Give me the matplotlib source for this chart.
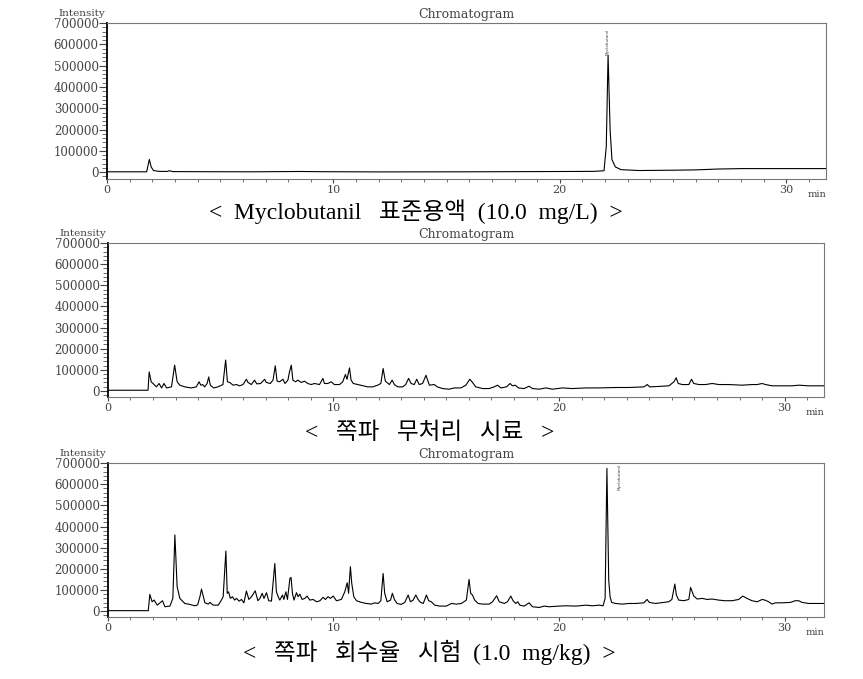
import numpy as np
import matplotlib
matplotlib.use("Agg")
import matplotlib.pyplot as plt
from matplotlib.ticker import MultipleLocator, FixedLocator

# Retention time (min) and intensity
std_time = [0.0, 1.75, 1.87, 1.95, 2.05, 2.3, 2.65, 2.75, 2.9, 4.0, 6.5, 8.5, 9.5, 12.0,
            16.0, 19.0, 21.5, 21.95, 22.05, 22.13, 22.22, 22.3, 22.45, 22.7, 23.5, 25.0,
            26.0, 27.0, 28.0, 31.75]
std_int = [2000, 2000, 60000, 25000, 8000, 4000, 3500, 7000, 3000, 2500, 2000, 3500, 2500, 1500,
           2000, 3000, 4000, 7000, 120000, 550000, 200000, 60000, 25000, 12000, 8000, 9500,
           11000, 15000, 17000, 17000]

blank_time = [0.0, 1.78, 1.83, 1.92, 2.05, 2.15, 2.27, 2.38, 2.49, 2.6, 2.82, 2.96, 3.07, 3.19,
              3.41, 3.7, 3.92, 4.04, 4.12, 4.2, 4.29, 4.4, 4.47, 4.54, 4.69, 4.88, 5.1, 5.22,
              5.3, 5.4, 5.55, 5.7, 5.84, 5.99, 6.14, 6.21, 6.36, 6.5, 6.6, 6.77, 6.95, 7.02,
              7.2, 7.32, 7.42, 7.5, 7.61, 7.76, 7.85, 7.98, 8.05, 8.13, 8.2, 8.32, 8.42, 8.57,
              8.72, 8.86, 9.01, 9.16, 9.38, 9.53, 9.6, 9.75, 9.9, 10.04, 10.27, 10.41, 10.53,
              10.6, 10.71, 10.78, 10.88, 11.08, 11.3, 11.52, 11.74, 11.96, 12.1, 12.2, 12.3,
              12.48, 12.6, 12.7, 12.85, 13.07, 13.2, 13.33, 13.44, 13.58, 13.69, 13.8, 13.95,
              14.1, 14.25, 14.47, 14.6, 14.84, 15.13, 15.35, 15.65, 15.87, 16.04, 16.14, 16.31,
              16.61, 16.9, 17.12, 17.27, 17.42, 17.67, 17.83, 17.93, 18.05, 18.2, 18.45, 18.67,
              18.82, 19.12, 19.41, 19.71, 20.15, 20.59, 21.18, 21.77, 22.51, 23.1, 23.76, 23.91,
              24.01, 24.42, 24.87, 25.09, 25.19, 25.28, 25.46, 25.75, 25.87, 25.97, 26.2, 26.49,
              26.79, 27.08, 27.52, 28.11, 28.55, 28.78, 29.0, 29.15, 29.44, 29.88, 30.33, 30.63,
              31.06, 31.75]
blank_int = [3000, 3000, 90000, 43000, 30000, 19000, 35000, 14000, 35000, 14000, 19000, 122000,
             43000, 27000, 19000, 14000, 19000, 43000, 27000, 30000, 19000, 35000, 66000, 27000,
             14000, 19000, 30000, 146000, 43000, 40000, 27000, 30000, 24000, 30000, 55000, 40000,
             30000, 51000, 33000, 35000, 55000, 40000, 35000, 51000, 119000, 46000, 43000, 55000,
             35000, 51000, 90000, 122000, 51000, 43000, 51000, 40000, 46000, 35000, 30000, 35000,
             30000, 59000, 35000, 35000, 43000, 30000, 30000, 43000, 78000, 55000, 109000, 51000,
             35000, 30000, 24000, 19000, 19000, 27000, 35000, 106000, 46000, 30000, 51000, 30000,
             19000, 19000, 30000, 59000, 35000, 30000, 55000, 30000, 35000, 74000, 27000, 30000,
             19000, 11000, 8000, 14000, 14000, 27000, 55000, 43000, 19000, 11000, 11000, 19000,
             27000, 14000, 19000, 35000, 24000, 27000, 14000, 11000, 22000, 11000, 8000, 14000,
             8000, 14000, 11000, 14000, 14000, 16000, 16000, 19000, 30000, 19000, 21000, 24000,
             43000, 62000, 35000, 30000, 30000, 55000, 35000, 30000, 30000, 35000, 30000, 30000,
             27000, 30000, 30000, 35000, 30000, 24000, 24000, 24000, 27000, 24000, 24000]

spike_time = [0.0, 1.79, 1.86, 1.96, 2.05, 2.19, 2.42, 2.53, 2.75, 2.88, 2.97, 3.07, 3.19, 3.41,
              3.63, 3.86, 3.98, 4.08, 4.15, 4.3, 4.45, 4.52, 4.67, 4.89, 4.99, 5.11, 5.23, 5.29,
              5.35, 5.43, 5.52, 5.62, 5.7, 5.82, 5.92, 6.03, 6.14, 6.25, 6.37, 6.53, 6.65, 6.74,
              6.84, 6.92, 7.03, 7.13, 7.25, 7.4, 7.47, 7.55, 7.62, 7.74, 7.8, 7.89, 7.96, 8.07,
              8.12, 8.18, 8.25, 8.36, 8.43, 8.51, 8.61, 8.73, 8.83, 8.95, 9.1, 9.25, 9.4, 9.54,
              9.64, 9.76, 9.86, 9.99, 10.13, 10.35, 10.5, 10.61, 10.67, 10.75, 10.81, 10.9,
              11.02, 11.24, 11.46, 11.68, 11.83, 11.98, 12.1, 12.2, 12.27, 12.38, 12.53, 12.61,
              12.7, 12.82, 13.0, 13.16, 13.31, 13.41, 13.53, 13.65, 13.75, 13.86, 13.98, 14.12,
              14.22, 14.34, 14.49, 14.71, 15.0, 15.23, 15.45, 15.67, 15.89, 16.01, 16.08, 16.16,
              16.26, 16.41, 16.61, 16.9, 17.05, 17.23, 17.35, 17.57, 17.71, 17.86, 17.96, 18.08,
              18.17, 18.26, 18.45, 18.67, 18.82, 19.12, 19.34, 19.56, 20.0, 20.3, 20.75, 21.19,
              21.47, 21.77, 21.95, 22.04, 22.12, 22.2, 22.26, 22.33, 22.5, 22.8, 23.1, 23.4,
              23.76, 23.9, 24.0, 24.27, 24.5, 24.65, 24.86, 25.0, 25.13, 25.2, 25.3, 25.53,
              25.75, 25.83, 25.9, 25.97, 26.12, 26.34, 26.56, 26.78, 27.07, 27.34, 27.67, 27.96,
              28.14, 28.33, 28.55, 28.78, 29.0, 29.12, 29.29, 29.44, 29.59, 29.88, 30.25, 30.47,
              30.62, 30.77, 31.06, 31.75]
spike_int = [2000, 2000, 79000, 44000, 52000, 28000, 49000, 20500, 23600, 60000, 360000, 115000,
             60000, 36000, 31500, 25000, 30000, 68000, 104000, 39000, 33000, 41000, 28000, 28000,
             44000, 68000, 284000, 84000, 91000, 60000, 68000, 52000, 60000, 47000, 55000, 39000,
             95000, 55000, 68000, 96000, 49000, 60000, 84000, 60000, 87000, 49000, 47000, 225000,
             91000, 68000, 52000, 76000, 55000, 91000, 55000, 155000, 159000, 84000, 52000, 87000,
             68000, 80000, 55000, 60000, 71000, 52000, 55000, 44000, 49000, 65000, 55000, 68000,
             60000, 71000, 49000, 55000, 91000, 134000, 84000, 210000, 131000, 68000, 49000,
             41000, 36000, 33000, 39000, 36000, 49000, 178000, 84000, 44000, 52000, 84000, 55000,
             36000, 31500, 41000, 76000, 44000, 52000, 76000, 55000, 41000, 36000, 76000, 49000,
             44000, 28000, 23600, 23600, 36000, 33000, 36000, 52000, 150000, 84000, 76000, 52000,
             36000, 33000, 33000, 44000, 72500, 44000, 36000, 44000, 71000, 49000, 36000, 44000,
             28000, 23600, 39000, 20500, 17000, 23600, 20500, 23600, 25000, 23600, 28000, 25000,
             28000, 25000, 60000, 675000, 147000, 68000, 41000, 36000, 33000, 36000, 36000,
             39000, 55000, 41000, 36000, 39000, 41000, 44000, 55000, 128000, 76000, 52000, 49000,
             55000, 112000, 91000, 71000, 57000, 60000, 55000, 57000, 52000, 49000, 49000, 55000,
             71000, 60000, 49000, 44000, 55000, 52000, 44000, 33000, 39000, 39000, 41000, 49000,
             49000, 41000, 36000, 36000]

y_ticks = [0, 100000, 200000, 300000, 400000, 500000, 600000, 700000]
x_ticks = [0, 10, 20, 30]
peak_name = "Myclobutanil"
captions = ["<  Myclobutanil   표준용액  (10.0  mg/L)  >",
            "<   쪽파   무처리   시료   >",
            "<   쪽파   회수율   시험  (1.0  mg/kg)  >"]

tick_font = "DejaVu Serif"
cap_font = ["Liberation Serif", "Noto Sans CJK KR"]

fig = plt.figure(figsize=(8.63, 6.79), dpi=100)

# axes boxes [left, bottom, width, height] in figure fraction
boxes = [[0.124, 0.736, 0.833, 0.230],
         [0.125, 0.415, 0.830, 0.227],
         [0.125, 0.091, 0.830, 0.227]]
ymins = [-33000, -30000, -29000]
traces = [(std_time, std_int), (blank_time, blank_int), (spike_time, spike_int)]
cap_pos = [(0.482, 1 - 212 / 679), (0.498, 1 - 433 / 679), (0.497, 1 - 652 / 679)]

axes = []
for i in range(3):
    ax = fig.add_axes(boxes[i])
    t, y = traces[i]
    ax.plot(t, y, color="black", lw=0.8)
    ax.set_xlim(0, 31.75)
    ax.set_ylim(ymins[i], 700000)

    # ticks: outward, major + minor
    ax.yaxis.set_major_locator(FixedLocator(y_ticks))
    ax.yaxis.set_minor_locator(MultipleLocator(20000))
    ax.xaxis.set_major_locator(FixedLocator(x_ticks))
    ax.xaxis.set_minor_locator(MultipleLocator(1))
    ax.tick_params(axis="y", which="major", direction="out", length=6, width=0.8,
                   pad=0, labelsize=8.5, colors="#444444")
    ax.tick_params(axis="y", which="minor", direction="out", length=3.5, width=0.6,
                   color="#555555")
    ax.tick_params(axis="x", which="major", direction="out", length=3, width=0.8,
                   pad=1, labelsize=8, colors="#444444")
    ax.tick_params(axis="x", which="minor", direction="out", length=2, width=0.6,
                   color="#555555")
    for lab in ax.get_xticklabels() + ax.get_yticklabels():
        lab.set_family(tick_font)

    # spines: black left axis, grey frame
    ax.spines["left"].set_color("black")
    ax.spines["left"].set_linewidth(1.3)
    for s in ["top", "right", "bottom"]:
        ax.spines[s].set_color("#777777")
        ax.spines[s].set_linewidth(0.8)

    ax.text(0.5, 1.015, "Chromatogram", transform=ax.transAxes, ha="center",
            va="bottom", fontsize=9, family=tick_font, color="#444444")
    ax.annotate("Intensity", xy=(0, 1), xycoords="axes fraction", xytext=(-1, 4),
                textcoords="offset points", ha="right", va="bottom", fontsize=7.5,
                family=tick_font, color="#444444")
    ax.text(1.0, -0.07, "min", transform=ax.transAxes, ha="right", va="top",
            fontsize=7, family=tick_font, color="#444444")

    fig.text(cap_pos[i][0], cap_pos[i][1], captions[i], ha="center", va="center",
             fontsize=17, family=cap_font)
    axes.append(ax)

# peak labels
apex1 = int(np.argmax(std_int))
axes[0].text(std_time[apex1], std_int[apex1], peak_name, rotation=90, ha="center",
             va="bottom", fontsize=3, color="#444444")
apex3 = int(np.argmax(spike_int))
axes[2].text(spike_time[apex3] + 0.55, 695000, peak_name, rotation=90, ha="center",
             va="top", fontsize=3, color="#444444")

fig.savefig("out.png", dpi=100)
